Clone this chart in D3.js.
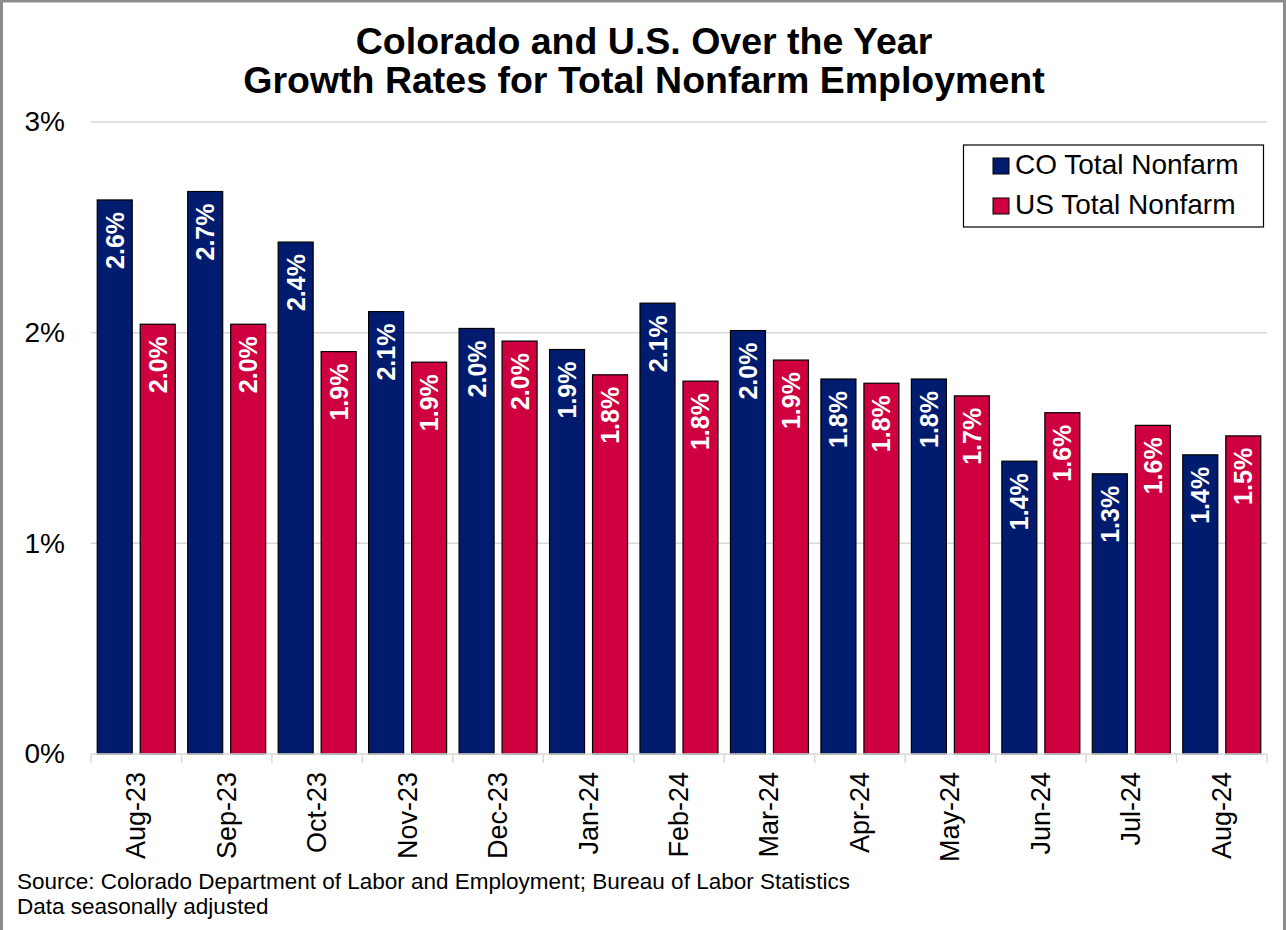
<!DOCTYPE html>
<html>
<head>
<meta charset="utf-8">
<script src="https://cdn.jsdelivr.net/npm/d3@7"></script>
<style>
  html, body { margin: 0; padding: 0; background: #fff; }
  svg { display: block; font-family: "Liberation Sans", Arial, sans-serif; }
</style>
</head>
<body>
<svg id="chart" width="1286" height="930"></svg>
<script>
// Over-the-year growth in total nonfarm employment, percent
const months = ["Aug-23","Sep-23","Oct-23","Nov-23","Dec-23","Jan-24","Feb-24",
                "Mar-24","Apr-24","May-24","Jun-24","Jul-24","Aug-24"];
const coValues = [2.63, 2.67, 2.43, 2.10, 2.02, 1.92, 2.14, 2.01, 1.78, 1.78, 1.39, 1.33, 1.42];
const usValues = [2.04, 2.04, 1.91, 1.86, 1.96, 1.80, 1.77, 1.87, 1.76, 1.70, 1.62, 1.56, 1.51];
const seriesNames = ["CO Total Nonfarm", "US Total Nonfarm"];
const yTicks = [0, 1, 2, 3];

const colors = ["#011c6e", "#cf0040"];
const svg = d3.select("#chart");

// outer frame
svg.append("rect")
  .attr("x", 1.5).attr("y", 1).attr("width", 1283).attr("height", 940)
  .attr("fill", "none").attr("stroke", "#8c8c8c").attr("stroke-width", 3);

const plot = { left: 91, right: 1267, top: 122, bottom: 754 };

const x0 = d3.scaleBand().domain(months).range([plot.left, plot.right]).padding(0);
const x1 = d3.scaleBand().domain([0, 1]).range([0, x0.bandwidth()])
  .paddingInner(0.186).paddingOuter(0.145);
const y = d3.scaleLinear().domain([0, 3]).range([plot.bottom, plot.top]);

// gridlines
svg.append("g").selectAll("line").data(yTicks.filter(d => d > 0)).join("line")
  .attr("x1", plot.left).attr("x2", plot.right)
  .attr("y1", d => y(d)).attr("y2", d => y(d))
  .attr("stroke", "#d9d9d9").attr("stroke-width", 1.5);

// y axis labels
const yAxis = d3.axisLeft(y).tickValues(yTicks).tickFormat(d => d + "%").tickSize(0).tickPadding(26);
const gy = svg.append("g").attr("transform", `translate(${plot.left},0)`).call(yAxis);
gy.select(".domain").remove();
gy.selectAll("text").attr("font-size", 28).attr("fill", "#000")
  .attr("font-family", "'Liberation Sans', Arial, sans-serif");

// bars
const rows = months.map((m, i) => ({ month: m, vals: [coValues[i], usValues[i]] }));
const groups = svg.append("g").selectAll("g").data(rows).join("g")
  .attr("transform", d => `translate(${x0(d.month)},0)`);

groups.selectAll("rect").data(d => d.vals.map((v, k) => ({ v, k }))).join("rect")
  .attr("x", d => x1(d.k))
  .attr("width", x1.bandwidth())
  .attr("y", d => y(d.v))
  .attr("height", d => y(0) - y(d.v))
  .attr("fill", d => colors[d.k])
  .attr("stroke", "#000").attr("stroke-width", 1.2);

// value labels inside bar tops
groups.selectAll("text").data(d => d.vals.map((v, k) => ({ v, k }))).join("text")
  .attr("transform", d => `translate(${x1(d.k) + x1.bandwidth() / 2},${y(d.v) + 12}) rotate(-90)`)
  .attr("text-anchor", "end")
  .attr("dominant-baseline", "central")
  .attr("fill", "#fff").attr("font-weight", "bold").attr("font-size", 25)
  .text(d => d3.format(".1f")(d.v) + "%");

// x axis
const xAxis = d3.axisBottom(x0).tickSize(0).tickPadding(0);
const gx = svg.append("g").attr("transform", `translate(0,${plot.bottom})`).call(xAxis);
gx.select(".domain").attr("stroke", "#d9d9d9").attr("stroke-width", 1.5)
  .attr("d", `M${plot.left},0H${plot.right}`);
gx.selectAll("text")
  .attr("font-size", 27).attr("fill", "#000")
  .attr("font-family", "'Liberation Sans', Arial, sans-serif")
  .attr("text-anchor", "end")
  .attr("dominant-baseline", "central")
  .attr("dy", null).attr("y", 0)
  .attr("transform", "translate(0,18) rotate(-90)");
// category separator ticks
const bounds = months.map(m => x0(m)).concat([plot.right]);
svg.append("g").selectAll("line").data(bounds).join("line")
  .attr("x1", d => d).attr("x2", d => d)
  .attr("y1", plot.bottom).attr("y2", plot.bottom + 9)
  .attr("stroke", "#d9d9d9").attr("stroke-width", 1.5);

// title
const title = svg.append("text").attr("x", 645).attr("text-anchor", "middle")
  .attr("font-weight", "bold").attr("font-size", 37.5).attr("fill", "#000");
title.append("tspan").attr("x", 644).attr("y", 54).text("Colorado and U.S. Over the Year");
title.append("tspan").attr("x", 644).attr("y", 93).text("Growth Rates for Total Nonfarm Employment");

// legend
const legend = svg.append("g");
legend.append("rect").attr("x", 963.5).attr("y", 145).attr("width", 300).attr("height", 82)
  .attr("fill", "#fff").attr("stroke", "#000").attr("stroke-width", 1.2);
const items = legend.selectAll("g").data(seriesNames).join("g")
  .attr("transform", (d, i) => `translate(993,${158 + i * 40})`);
items.append("rect").attr("width", 16).attr("height", 16)
  .attr("fill", (d, i) => colors[i]).attr("stroke", "#000").attr("stroke-width", 1);
items.append("text").attr("x", 22).attr("y", 16).attr("font-size", 28).attr("fill", "#000")
  .text(d => d);

// source note
const note = svg.append("text").attr("font-size", 22.5).attr("fill", "#000");
note.append("tspan").attr("x", 17).attr("y", 889)
  .text("Source: Colorado Department of Labor and Employment; Bureau of Labor Statistics");
note.append("tspan").attr("x", 17).attr("y", 914).text("Data seasonally adjusted");
</script>
</body>
</html>
